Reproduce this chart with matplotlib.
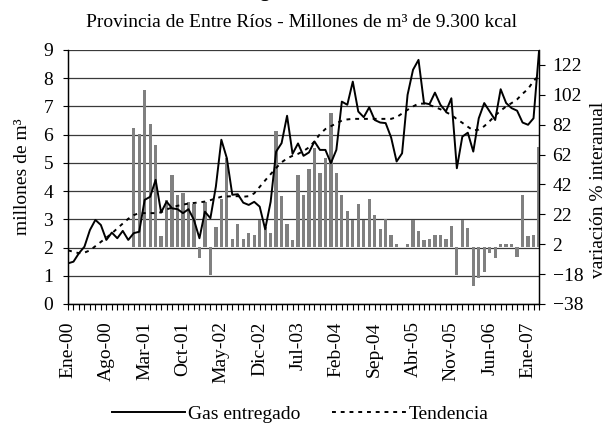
import matplotlib
matplotlib.use('Agg')
import matplotlib.pyplot as plt
import numpy as np

plt.rcParams['font.family'] = ['Liberation Serif', 'DejaVu Serif']
plt.rcParams['font.size'] = 14

# --- datos (Ene-00 a Mar-07, mensual) ---
meses = ['Ene', 'Feb', 'Mar', 'Abr', 'May', 'Jun', 'Jul', 'Ago', 'Sep', 'Oct', 'Nov', 'Dic']
anio_inicio = 2000

gas_entregado = [
    1.44, 1.50, 1.80, 2.03, 2.62, 2.98, 2.80, 2.27, 2.53, 2.33, 2.59, 2.27,   # 2000
    2.51, 2.56, 3.69, 3.80, 4.40, 3.24, 3.63, 3.39, 3.36, 3.22, 3.36, 2.98,   # 2001
    2.33, 3.27, 3.04, 4.16, 5.82, 5.17, 3.87, 3.89, 3.59, 3.51, 3.62, 3.45,   # 2002
    2.65, 3.62, 5.40, 5.70, 6.67, 5.32, 5.69, 5.25, 5.37, 5.76, 5.46, 5.46,   # 2003
    4.99, 5.46, 7.17, 7.06, 7.88, 6.82, 6.62, 6.97, 6.52, 6.43, 6.41, 5.90,   # 2004
    5.05, 5.34, 7.41, 8.30, 8.65, 7.12, 7.08, 7.49, 7.06, 6.82, 7.29, 4.81,   # 2005
    5.93, 6.07, 5.40, 6.58, 7.12, 6.82, 6.52, 7.61, 7.12, 6.94, 6.85, 6.43,   # 2006
    6.35, 6.58, 8.95,                                                         # 2007
]

tendencia = [
    1.90, 1.85, 1.80, 1.82, 1.90, 2.05, 2.20, 2.35, 2.50, 2.68, 2.85, 3.02,
    3.15, 3.22, 3.22, 3.22, 3.22, 3.25, 3.35, 3.42, 3.48, 3.52, 3.56, 3.58,
    3.60, 3.63, 3.68, 3.74, 3.80, 3.81, 3.82, 3.82, 3.80, 3.82, 3.92, 4.15,
    4.38, 4.60, 4.82, 5.02, 5.16, 5.25, 5.32, 5.42, 5.55, 5.76, 6.02, 6.20,
    6.30, 6.40, 6.50, 6.54, 6.56, 6.56, 6.56, 6.56, 6.56, 6.56, 6.56, 6.56,
    6.62, 6.75, 6.88, 7.00, 7.10, 7.10, 7.05, 6.98, 6.90, 6.80, 6.70, 6.55,
    6.42, 6.28, 6.15, 6.18, 6.30, 6.48, 6.68, 6.85, 7.00, 7.12, 7.25, 7.45,
    7.62, 7.90, 8.10,
]

# variacion % interanual, desde Ene-01
variacion = [
    80.1, 76.1, 105.5, 82.3, 68.3, 7.4, 31.5, 48.2, 34.8, 36.4, 30.3, 28.8,     # 2001
    -7.1, 30.3, -18.7, 13.6, 32.6, 59.4, 5.8, 15.6, 5.8, 9.2, 8.0, 18.1,        # 2002
    13.6, 9.2, 77.9, 34.1, 15.4, 4.7, 48.2, 34.8, 52.2, 66.7, 49.7, 59.4,       # 2003
    89.9, 49.7, 34.8, 24.1, 18.1, 28.8, 18.1, 32.6, 21.4, 12.0, 19.2, 8.0,      # 2004
    2.0, 0.3, 2.0, 18.1, 10.7, 4.7, 5.8, 8.0, 8.0, 5.8, 14.1, -18.7,            # 2005
    18.1, 13.2, -26.1, -20.3, -16.9, -3.8, -7.1, 2.0, 2.0, 2.0, -6.5, 34.8,     # 2006
    7.4, 8.0, 67.1,                                                             # 2007
]

n = len(gas_entregado)
x = np.arange(n)
x_var = x[12:]
etiquetas = [f"{meses[i % 12]}-{(anio_inicio + i // 12) % 100:02d}" for i in range(n)]

fig = plt.figure(figsize=(6.03, 4.25), dpi=100)
pos = [68 / 603, 1 - 304 / 425, 471 / 603, 254 / 425]

ax = fig.add_axes(pos)
ax2 = ax.twinx()
ax3 = fig.add_axes(pos, sharex=ax, sharey=ax)
ax.set_zorder(0)
ax2.set_zorder(1)
ax3.set_zorder(2)
for a in (ax2, ax3):
    a.patch.set_visible(False)
ax3.axis('off')

# barras: variacion interanual (eje derecho)
ax2.bar(x_var, variacion, width=0.6, color='#808080', linewidth=0)

# lineas
ax3.plot(x, gas_entregado, color='black', lw=1.4, label='Gas entregado')
ax3.plot(x, tendencia, color='black', lw=1.4, ls=(0, (2, 2.5)), label='Tendencia')

ax.set_xlim(0, n - 1)
ax.set_ylim(0, 9)
ax.set_yticks(range(0, 10))
ax.grid(axis='y', color='#3a3a3a', lw=0.9)
ax.set_axisbelow(True)

ax2.set_ylim(-38, 132)
ax2.set_yticks(range(-38, 123, 20))

ax.set_xticks(x[::7])
ax.set_xticklabels(etiquetas[::7], rotation=90)
ax.set_xticks(x, minor=True)

for a in (ax, ax2):
    for s in a.spines.values():
        s.set_color('black')
        s.set_linewidth(0.9)
    a.spines['top'].set_visible(False)

ax.tick_params(axis='x', which='both', direction='out', length=4.5, width=0.8, pad=8)
ax.tick_params(axis='y', direction='out', length=3.6, width=0.8, pad=7)
ax2.tick_params(axis='y', direction='out', length=4.3, width=0.8, pad=5.5)

ax.set_ylabel('millones de m³')
ax.yaxis.set_label_coords(-0.078, 0.5)
ax2.set_ylabel('variación % interanual')
ax2.yaxis.set_label_coords(1.108, 0.45)

# primera linea del titulo, cortada en el borde superior como en el original
fig.text(0.5, 1 + 3 / 425, 'Gas entregado, serie mensual', ha='center',
         va='baseline', fontweight='bold')
fig.text(0.5, 1 - 27 / 425, 'Provincia de Entre Ríos - Millones de m³ de 9.300 kcal',
         ha='center', va='baseline')

fig.legend(loc='center', bbox_to_anchor=(300 / 603, 1 - 414 / 425), ncol=2,
           frameon=False, handlelength=3.8, handletextpad=0.15, columnspacing=1.6,
           borderaxespad=0)

fig.savefig('out.png', dpi=100)
